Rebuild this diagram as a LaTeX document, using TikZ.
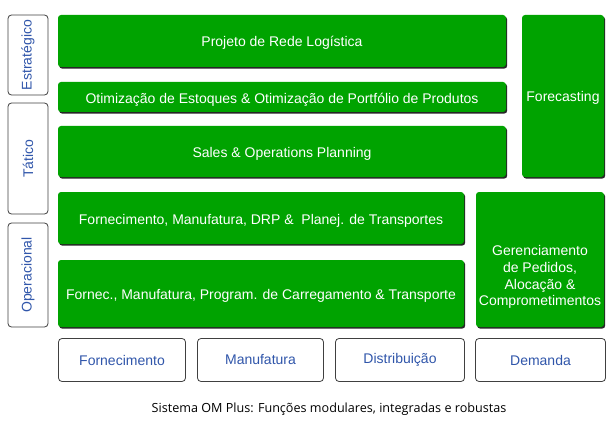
\documentclass[tikz,border=0pt]{standalone}
\usepackage{fontspec}
\setmainfont{Liberation Sans}
\newfontfamily\captionfont{Open Sans}
\usetikzlibrary{shadows}

\definecolor{omgreen}{RGB}{0,163,0}
\definecolor{omblue}{RGB}{48,86,170}

\tikzset{%
  module text/.style={
    text=white,
    align=center,
    font=\fontsize{14}{16.8}\selectfont
  },
  every module/.style={
    module text,
    rectangle,
    rounded corners=3pt,
    fill=omgreen,
    inner sep=2pt,
    text height=12pt,
    text depth=0pt,
    drop shadow={shadow xshift=1.2pt, shadow yshift=-1.6pt, fill=black!85, opacity=1}
  },
  every area/.style={
    rectangle,
    rounded corners=3.5pt,
    draw=black!75,
    fill=white,
    text=omblue,
    line width=0.8pt,
    font=\fontsize{14}{16.8}\selectfont
  },
  every level/.style={
    every area/.try,
    rotate=90
  },
}

\begin{document}
\begin{tikzpicture}[x=1pt, y=-1pt]

\useasboundingbox (0,0) rectangle (614,436);

% LEVEL labels
\foreach \m/\l/\c/\h in {estr/Estratégico/55/80, tat/Tático/158.5/111, oper/Operacional/275/104}
  \node [every level/.try, minimum width=\h, minimum height=40]
    (level-\m) at (28,\c) {\l};

% STRATEGIC and TACTICAL modules
\node [every module/.try, minimum width=448, minimum height=52]
  (rede) at (282,41) {Projeto de Rede Logística};
\node [every module/.try, minimum width=448, minimum height=30]
  (otim) at (282,97) {Otimização de Estoques \& Otimização de Portfólio de Produtos};
\node [every module/.try, minimum width=448, minimum height=51]
  (sop) at (282,151.5) {Sales \& Operations Planning};
\node [every module/.try, minimum width=82, minimum height=162]
  (fcst) at (563,96) {Forecasting};

% OPERATIONAL modules
\node [every module/.try, minimum width=406, minimum height=52]
  (drp) at (261,218) {Fornecimento, Manufatura, DRP \&\ \ Planej. de Transportes};
\node [every module/.try, minimum width=406, minimum height=67]
  (carreg) at (261,293.5) {Fornec., Manufatura, Program. de Carregamento \& Transporte};
\node [every module/.try, minimum width=128, minimum height=135]
  (ger) at (540,259.5) {};
\node [module text]
  (ger-text) at (540,277) {Gerenciamento\\de Pedidos,\\Alocação \&\\Comprometimentos};

% AREA labels
\foreach \m/\l/\c/\w [count=\i] in {forn/Fornecimento/122/127, manuf/Manufatura/260.5/126, distr/Distribuição/400/129, dem/Demanda/540.5/130}
  \node [every area/.try, minimum width=\w, minimum height=43]
    (area-\m) at (\c,360) {\l};

% Caption
\node [font=\captionfont\fontsize{12.6}{15}\selectfont]
  (caption) at (329,409) {Sistema OM Plus: Funções modulares, integradas e robustas};

\end{tikzpicture}
\end{document}
